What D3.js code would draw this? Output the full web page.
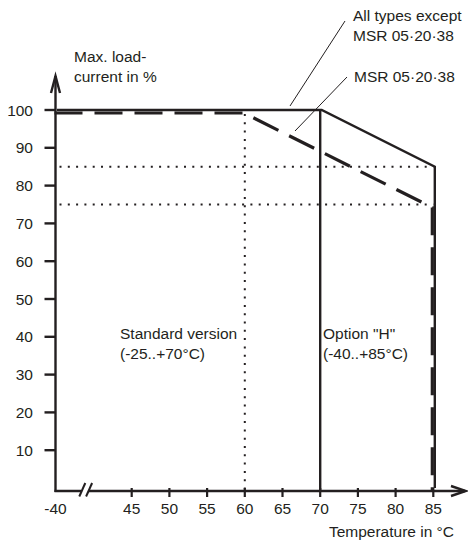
<!DOCTYPE html>
<html>
<head>
<meta charset="utf-8">
<script src="https://cdn.jsdelivr.net/npm/d3@7"></script>
<style>
  body { margin: 0; background: #fff; }
  text { font-family: "Liberation Sans", Arial, sans-serif; font-size: 15.5px; fill: #231f20; }
</style>
</head>
<body>
<div id="chart"></div>
<script>
// Derating chart: load current vs temperature

let xTicks = [45, 50, 55, 60, 65, 70, 75, 80, 85];
let yTicks = [10, 20, 30, 40, 50, 60, 70, 80, 90, 100];
let allTypes = [{ t: -40, v: 100 }, { t: 70, v: 100 }, { t: 85, v: 85 }, { t: 85, v: 0 }];
let msr = [{ t: -40, v: 100 }, { t: 60, v: 100 }, { t: 85, v: 75 }, { t: 85, v: 0 }];
let dottedTemps = [60];
let dottedLevels = [85, 75];
let optionTemp = 70;

let width = 468;
let height = 541;
let ink = '#231f20';
let x0 = 55.5;     // origin (-40 °C, axis break)
let axisY = 491;

let x = d3.scaleLinear().domain([45, 85]).range([131.7, 433.3]);
let y = d3.scaleLinear().domain([0, 100]).range([488, 110]);
const xp = t => t === -40 ? x0 : x(t);

let svg = d3.select('#chart').append('svg')
  .attr('width', width)
  .attr('height', height);

// Dotted guides
svg.selectAll('line.dv')
  .data(dottedTemps)
  .enter().append('line')
    .attr('x1', d => x(d)).attr('x2', d => x(d))
    .attr('y1', y(100) + 4).attr('y2', axisY)
    .attr('stroke', ink).attr('stroke-width', 2)
    .attr('stroke-dasharray', '2,6.3');

svg.selectAll('line.dh')
  .data(dottedLevels)
  .enter().append('line')
    .attr('x1', x0 + 4).attr('x2', x(85))
    .attr('y1', d => y(d)).attr('y2', d => y(d))
    .attr('stroke', ink).attr('stroke-width', 2)
    .attr('stroke-dasharray', '2,6.3');

// Option H boundary
svg.append('line')
  .attr('x1', x(optionTemp)).attr('x2', x(optionTemp))
  .attr('y1', y(100)).attr('y2', axisY)
  .attr('stroke', ink).attr('stroke-width', 2.4);

let line = d3.line().x(d => xp(d.t)).y(d => y(d.v));

// Solid: all types except MSR 05-20-38
svg.append('path')
  .datum(allTypes)
  .attr('d', line)
  .attr('transform', 'translate(1.5,0)')
  .attr('fill', 'none')
  .attr('stroke', ink)
  .attr('stroke-width', 2.4);

// Dashed: MSR 05-20-38
svg.append('path')
  .datum(msr)
  .attr('d', line)
  .attr('transform', 'translate(-1,3)')
  .attr('fill', 'none')
  .attr('stroke', ink)
  .attr('stroke-width', 3.2)
  .attr('stroke-dasharray', '28,12');

// Axes
let axes = svg.append('g').attr('stroke', ink).attr('fill', 'none').attr('stroke-width', 2.4);
axes.append('line').attr('x1', x0).attr('x2', x0).attr('y1', axisY + 1).attr('y2', 76);
axes.append('path').attr('d', `M${x0 - 4.5},93 L${x0},76 L${x0 + 4.5},93`);
axes.append('line').attr('x1', x0 - 1).attr('x2', 465).attr('y1', axisY).attr('y2', axisY);
axes.append('path').attr('d', `M451,486 L466,${axisY} L451,496`);

// Axis break
svg.append('rect').attr('x', 81).attr('y', axisY - 3).attr('width', 8).attr('height', 6).attr('fill', '#fff');
svg.selectAll('line.brk')
  .data([0, 6.8])
  .enter().append('line')
    .attr('x1', d => 79.3 + d).attr('y1', 496.5)
    .attr('x2', d => 85.3 + d).attr('y2', 483)
    .attr('stroke', ink).attr('stroke-width', 2);

// Y ticks
svg.selectAll('line.yt')
  .data(yTicks)
  .enter().append('line')
    .attr('x1', 44.5).attr('x2', x0)
    .attr('y1', d => y(d)).attr('y2', d => y(d))
    .attr('stroke', ink).attr('stroke-width', 2.4);

svg.selectAll('text.yl')
  .data(yTicks)
  .enter().append('text')
    .attr('x', 33)
    .attr('y', d => y(d) + 5.5)
    .attr('text-anchor', 'end')
    .text(d => d);

// X ticks
svg.selectAll('line.xt')
  .data(xTicks)
  .enter().append('line')
    .attr('x1', d => x(d)).attr('x2', d => x(d))
    .attr('y1', axisY - 3).attr('y2', axisY + 6)
    .attr('stroke', ink).attr('stroke-width', 2.2);

svg.selectAll('text.xl')
  .data([-40].concat(xTicks))
  .enter().append('text')
    .attr('x', d => xp(d))
    .attr('y', 513.5)
    .attr('text-anchor', 'middle')
    .text(d => d);

// Labels
const label = (tx, ty, lines, anchor) => {
  lines.forEach((s, i) => {
    svg.append('text')
      .attr('x', tx).attr('y', ty + i * 20.5)
      .attr('text-anchor', anchor || 'start')
      .text(s);
  });
};

label(74, 61.5, ['Max. load-', 'current in %']);
label(454, 536.5, ['Temperature in °C'], 'end');
label(353, 20.5, ['All types except', 'MSR 05·20·38']);
label(354, 81.5, ['MSR 05·20·38']);
label(120, 338.5, ['Standard version', '(-25..+70°C)']);
label(323, 338.5, ['Option "H"', '(-40..+85°C)']);

// Leader lines
svg.selectAll('line.lead')
  .data([[345, 21, 290, 106], [347, 77, 295, 131]])
  .enter().append('line')
    .attr('x1', d => d[0]).attr('y1', d => d[1])
    .attr('x2', d => d[2]).attr('y2', d => d[3])
    .attr('stroke', ink).attr('stroke-width', 1);
</script>
</body>
</html>
